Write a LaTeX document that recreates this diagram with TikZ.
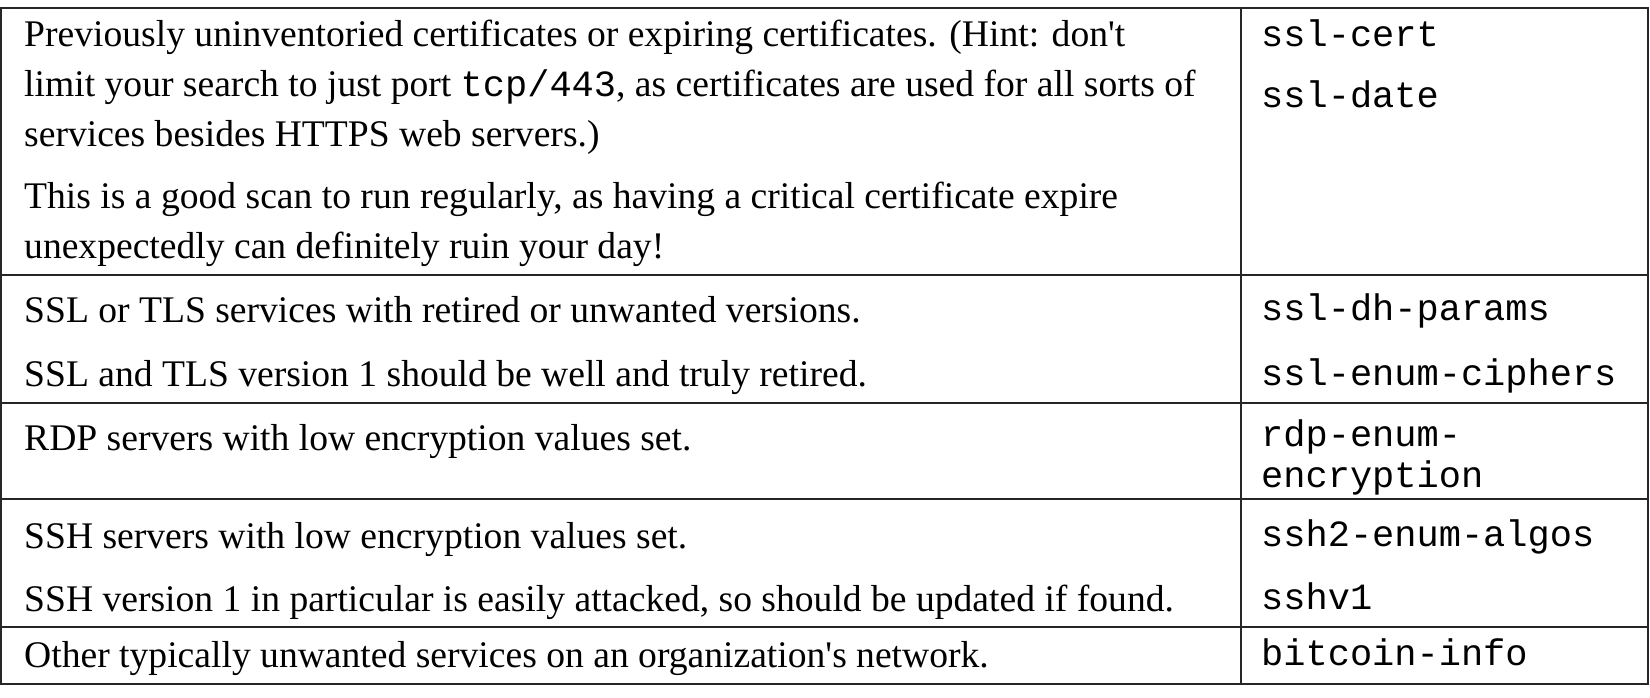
\documentclass[tikz,border=0pt]{standalone}
\usepackage{fontspec}
\setmainfont{Liberation Serif}[Ligatures=TeXOff]
\setmonofont{Liberation Mono}[Ligatures=TeXOff]
\begin{document}
\begin{tikzpicture}[x=1pt,y=-1pt,
  grid/.style={line width=2pt, draw=black!85, line cap=rect},
  txt/.style={anchor=base west, inner sep=0pt, font=\fontsize{37.6}{44}\selectfont},
  code/.style={anchor=base west, inner sep=0pt, font=\fontsize{37}{44}\selectfont\ttfamily}]
\useasboundingbox (0,0) rectangle (1650,698);
% grid
\coordinate (tl) at (1,8);
\coordinate (br) at (1648,684);
\draw[grid] (tl) rectangle (br);
\draw[grid] (1241,8) -- (1241,684);
\draw[grid] (1,275) -- (1648,275);
\draw[grid] (1,403) -- (1648,403);
\draw[grid] (1,499) -- (1648,499);
\draw[grid] (1,627) -- (1648,627);
% row 1
\node[txt] (a1) at (24,47) {Previously uninventoried certificates or expiring certificates. (Hint: don't};
\node[txt] (a2) at (24,97) {limit your search to just port {\fontsize{37}{44}\selectfont\ttfamily tcp/443}, as certificates are used for all sorts of};
\node[txt] (a3) at (24,147) {services besides HTTPS web servers.)};
\node[txt] (a4) at (24,208) {This is a good scan to run regularly, as having a critical certificate expire};
\node[txt] (a5) at (24,258) {unexpectedly can definitely ruin your day!};
\node[code] (b1) at (1261,47) {ssl-cert};
\node[code] (b2) at (1261,108) {ssl-date};
% row 2
\node[txt] (c1) at (24,322) {SSL or TLS services with retired or unwanted versions.};
\node[txt] (c2) at (24,386) {SSL and TLS version 1 should be well and truly retired.};
\node[code] (d1) at (1261,320) {ssl-dh-params};
\node[code] (d2) at (1261,385) {ssl-enum-ciphers};
% row 3
\node[txt] (e1) at (24,450) {RDP servers with low encryption values set.};
\node[code] (f1) at (1261,446) {rdp-enum-};
\node[code] (f2) at (1261,487) {encryption};
% row 4
\node[txt] (g1) at (24,548) {SSH servers with low encryption values set.};
\node[txt] (g2) at (24,611) {SSH version 1 in particular is easily attacked, so should be updated if found.};
\node[code] (h1) at (1261,546) {ssh2-enum-algos};
\node[code] (h2) at (1261,609) {sshv1};
% row 5
\node[txt] (i1) at (24,667) {Other typically unwanted services on an organization's network.};
\node[code] (j1) at (1261,665) {bitcoin-info};
\end{tikzpicture}
\end{document}
